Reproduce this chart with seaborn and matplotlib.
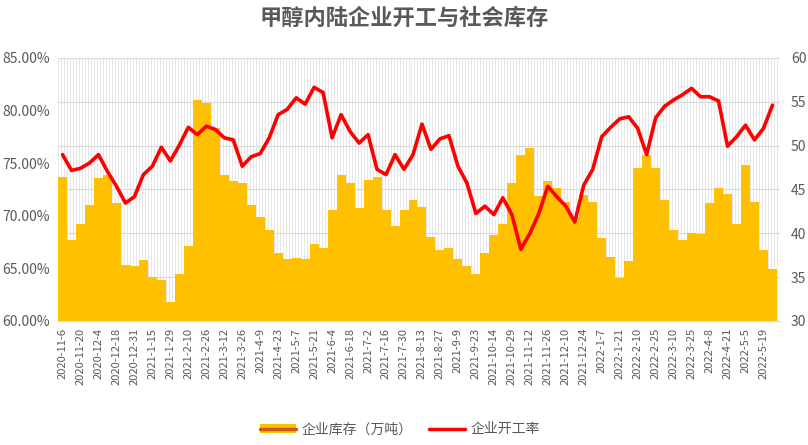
import numpy as np
import pandas as pd
import matplotlib
matplotlib.use("Agg")
import matplotlib.pyplot as plt
import seaborn as sb
from matplotlib.patches import Patch
from matplotlib.lines import Line2D
from matplotlib.ticker import FuncFormatter

# tick labels, one per two weeks
date_labels = [
    "2020-11-6", "2020-11-20", "2020-12-4", "2020-12-18", "2020-12-31",
    "2021-1-15", "2021-1-29", "2021-2-10", "2021-2-26", "2021-3-12",
    "2021-3-26", "2021-4-9", "2021-4-23", "2021-5-7", "2021-5-21",
    "2021-6-4", "2021-6-18", "2021-7-2", "2021-7-16", "2021-7-30",
    "2021-8-13", "2021-8-27", "2021-9-9", "2021-9-23", "2021-10-14",
    "2021-10-29", "2021-11-12", "2021-11-26", "2021-12-10", "2021-12-24",
    "2022-1-7", "2022-1-21", "2022-2-10", "2022-2-25", "2022-3-10",
    "2022-3-25", "2022-4-8", "2022-4-21", "2022-5-5", "2022-5-19",
]

# 企业库存（万吨）, weekly
inventory = [
    46.4, 39.2, 41.0, 43.2, 46.3, 46.6, 43.4, 36.4, 36.3, 36.9,
    35.0, 34.7, 32.1, 35.4, 38.5, 55.2, 54.9, 52.0, 46.6, 46.0,
    45.7, 43.2, 41.9, 40.4, 37.7, 37.0, 37.2, 37.0, 38.8, 38.3,
    42.6, 46.6, 45.7, 42.9, 46.1, 46.4, 42.6, 40.8, 42.6, 43.8,
    43.0, 39.6, 38.1, 38.3, 37.0, 36.2, 35.4, 37.7, 39.8, 41.1,
    45.7, 48.9, 49.7, 44.2, 45.9, 45.1, 43.6, 41.9, 44.4, 43.6,
    39.4, 37.3, 34.9, 36.8, 47.4, 48.9, 47.4, 43.8, 40.4, 39.2,
    40.0, 39.9, 43.4, 45.1, 44.5, 41.1, 47.8, 43.6, 38.1, 35.9,
]

# 企业开工率 (%), weekly
operating_rate = [
    75.8, 74.3, 74.5, 75.0, 75.8, 74.2, 72.8, 71.2, 71.8, 73.9,
    74.7, 76.5, 75.2, 76.7, 78.4, 77.7, 78.5, 78.2, 77.4, 77.2,
    74.7, 75.6, 75.9, 77.4, 79.6, 80.1, 81.2, 80.6, 82.2, 81.7,
    77.4, 79.6, 78.0, 76.9, 77.7, 74.4, 73.9, 75.8, 74.4, 75.8,
    78.7, 76.3, 77.3, 77.6, 74.7, 73.1, 70.2, 70.9, 70.1, 71.7,
    70.1, 66.8, 68.3, 70.2, 72.8, 71.8, 70.9, 69.4, 72.9, 74.4,
    77.5, 78.4, 79.2, 79.4, 78.3, 75.8, 79.3, 80.4, 81.0, 81.5,
    82.1, 81.3, 81.3, 80.9, 76.6, 77.5, 78.6, 77.2, 78.3, 80.5,
]

weeks = np.arange(len(inventory))
df = pd.DataFrame({"week": weeks, "inventory": inventory, "rate": operating_rate})

sb.set_style("white")
plt.rcParams["font.family"] = ["Noto Sans CJK SC", "DejaVu Sans"]
txt = "#595959"
grid = "#d9d9d9"

fig = plt.figure(figsize=(8.08, 4.45), dpi=100)
ax = fig.add_axes([0.0718, 0.279, 0.8935, 0.591])

# bars on the host axis (right-hand scale)
sb.barplot(data=df, x="week", y="inventory", color="#FFC000", width=1.0,
           saturation=1, edgecolor="none", linewidth=0, ax=ax)

# line on the twin axis (left-hand percent scale), drawn above the bars
ax2 = ax.twinx()
sb.lineplot(x=weeks, y=operating_rate, color="#FF0000", lw=2.6, ax=ax2)

ax.set_ylim(30, 60)
ax.set_xlim(-0.5, len(weeks) - 0.5)
ax.yaxis.tick_right()
ax.set_yticks(np.arange(30, 61, 5))
ax.set_axisbelow(True)
ax.set_xticks(np.arange(-0.5, len(weeks), 1 / 3), minor=True)
ax.xaxis.grid(True, which="minor", color="#e3e3e3", lw=0.6)
ax.yaxis.grid(True, color=grid, lw=0.8)
ax.set_xticks(weeks[::2])
ax.set_xticklabels(date_labels, rotation=90, fontsize=8, color=txt)
ax.tick_params(axis="x", which="major", length=3, color=grid, pad=2)
ax.tick_params(axis="x", which="minor", length=0)
ax.tick_params(axis="y", length=0, labelsize=10, colors=txt, pad=8,
               left=False, labelleft=False, right=False, labelright=True)
ax.set_xlabel("")
ax.set_ylabel("")
for s in ["top", "left", "right"]:
    ax.spines[s].set_visible(False)
ax.spines["bottom"].set_color(grid)

ax2.set_ylim(60, 85)
ax2.yaxis.tick_left()
ax2.set_yticks(np.arange(60, 86, 5))
ax2.yaxis.set_major_formatter(FuncFormatter(lambda v, p: f"{v:.2f}%"))
ax2.tick_params(axis="y", length=0, labelsize=10, colors=txt, pad=6)
ax2.set_ylabel("")
for s in ax2.spines.values():
    s.set_visible(False)

fig.suptitle("甲醇内陆企业开工与社会库存", x=0.5, y=0.985, fontsize=16,
             fontweight="bold", color=txt)

handles = [(Patch(facecolor="#FFC000", edgecolor="none"),
            Line2D([], [], color="#C55A11", lw=2.5)),
           Line2D([], [], color="#FF0000", lw=2.5)]
fig.legend(handles, ["企业库存（万吨）", "企业开工率"], loc="center",
           bbox_to_anchor=(0.495, 0.035), ncol=2, frameon=False, fontsize=10,
           labelcolor=txt, handlelength=2.6, columnspacing=1.2, handletextpad=0.4)

fig.savefig("out.png", dpi=100)
